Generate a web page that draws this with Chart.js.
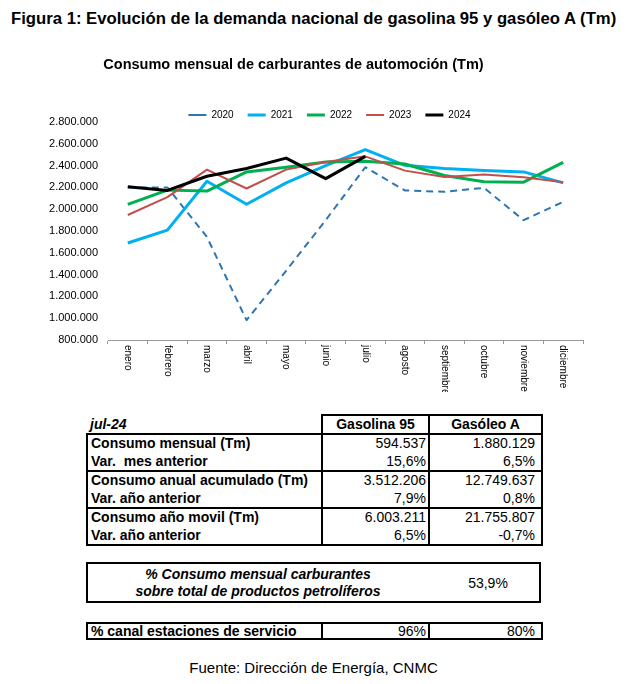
<!DOCTYPE html>
<html lang="es">
<head>
<meta charset="utf-8">
<script src="https://cdn.jsdelivr.net/npm/chart.js@4.4.1/dist/chart.umd.min.js"></script>
<style>
  html, body { margin:0; padding:0; background:#fff; }
  body { width:635px; height:684px; position:relative; overflow:hidden; font-family:"Liberation Sans", Arial, sans-serif; color:#000; }
  #hdr { position:absolute; left:11px; top:9px; font-size:16.7px; font-weight:bold; line-height:20px; white-space:nowrap; }
  #wrap { position:absolute; left:0; top:40px; width:635px; height:370px; }
  table { border-collapse:collapse; table-layout:fixed; position:absolute; }
  td { font-size:14px; line-height:16px; padding:0 3px; white-space:nowrap; overflow:hidden; height:18.5px; box-sizing:border-box; }
  .b { font-weight:bold; }
  .bi { font-weight:bold; font-style:italic; }
  .r { text-align:right; }
  .c { text-align:center; }
  #t1 { left:86px; top:414px; }
  #t1 td.c2 { padding-right:2px; }
  #t1 td.c3 { padding-right:6px; }
  .bl { border-left:2px solid #000; }
  .br { border-right:2px solid #000; }
  .bt { border-top:2px solid #000; }
  .bb { border-bottom:2px solid #000; }
  #box2 { position:absolute; left:86px; top:562px; width:455px; height:41px; border:2px solid #000; box-sizing:border-box; }
  #box2 .txt { position:absolute; left:0; width:340px; top:2px; text-align:center; font-size:14px; line-height:17px; font-weight:bold; font-style:italic; }
  #box2 .val { position:absolute; left:350px; width:100px; top:11px; text-align:center; font-size:14px; line-height:17px; }
  #t3 { left:86px; top:622px; }
  #t3 td { height:16px; line-height:14px; }
  #foot { position:absolute; left:0; width:627px; top:659px; text-align:center; font-size:15px; line-height:18px; }
</style>
</head>
<body>
<div id="hdr">Figura 1: Evolución de la demanda nacional de gasolina 95 y gasóleo A (Tm)</div>
<div id="wrap"><canvas id="c"></canvas></div>

<table id="t1">
  <colgroup><col style="width:235px"><col style="width:107px"><col style="width:113px"></colgroup>
  <tr><td class="bi bb">jul-24</td><td class="b c bt bl bb">Gasolina 95</td><td class="b c bt bl br bb">Gasóleo A</td></tr>
  <tr><td class="b bl">Consumo mensual (Tm)</td><td class="r c2 bl">594.537</td><td class="r c3 bl br">1.880.129</td></tr>
  <tr><td class="b bl bb">Var.&nbsp; mes anterior</td><td class="r c2 bl bb">15,6%</td><td class="r c3 bl br bb">6,5%</td></tr>
  <tr><td class="b bl">Consumo anual acumulado (Tm)</td><td class="r c2 bl">3.512.206</td><td class="r c3 bl br">12.749.637</td></tr>
  <tr><td class="b bl bb">Var. año anterior</td><td class="r c2 bl bb">7,9%</td><td class="r c3 bl br bb">0,8%</td></tr>
  <tr><td class="b bl">Consumo año movil (Tm)</td><td class="r c2 bl">6.003.211</td><td class="r c3 bl br">21.755.807</td></tr>
  <tr><td class="b bl bb">Var. año anterior</td><td class="r c2 bl bb">6,5%</td><td class="r c3 bl br bb">-0,7%</td></tr>
</table>

<div id="box2">
  <div class="txt">% Consumo mensual carburantes<br>sobre total de productos petrolíferos</div>
  <div class="val">53,9%</div>
</div>

<table id="t3">
  <colgroup><col style="width:235px"><col style="width:107px"><col style="width:113px"></colgroup>
  <tr><td class="b bl bt bb">% canal estaciones de servicio</td><td class="r bl bt bb" style="padding-right:2px">96%</td><td class="r bl br bt bb" style="padding-right:6px">80%</td></tr>
</table>

<div id="foot">Fuente: Dirección de Energía, CNMC</div>

<script>
// ---- data ----
const months = ['enero','febrero','marzo','abril','mayo','junio','julio','agosto','septiembre','octubre','noviembre','diciembre'];
const years = ['2020','2021','2022','2023','2024'];
const v2020 = [2200000, 2200000, 1745000, 982000, 1435000, 1900000, 2385000, 2172000, 2160000, 2196000, 1899000, 2068000];
const v2021 = [1690000, 1808000, 2257000, 2045000, 2242000, 2400000, 2546000, 2403000, 2373000, 2354000, 2342000, 2242000];
const v2022 = [2045000, 2175000, 2166000, 2342000, 2384000, 2433000, 2439000, 2415000, 2309000, 2251000, 2248000, 2430000];
const v2023 = [1947000, 2111000, 2363000, 2190000, 2363000, 2433000, 2485000, 2354000, 2296000, 2318000, 2293000, 2248000];
const v2024 = [2205000, 2172000, 2302000, 2373000, 2469000, 2280000, 2485000];
const yTicks = { min: 800000, max: 2800000, step: 200000 };
const chartTitle = 'Consumo mensual de carburantes de automoción (Tm)';

const FONT = '"Liberation Sans", Arial, sans-serif';
const fmt = v => String(Math.round(v)).replace(/\B(?=(\d{3})+(?!\d))/g, '.');

const shiftPlugin = {
  id: 'shift',
  afterLayout(chart) {
    const lg = chart.legend;
    if (lg) { lg.top += 8; lg.bottom += 8; lg.left += 38; lg.right += 38; }
    const t = chart.titleBlock;
    if (t) { t.left += 2; t.right += 2; }
  }
};

const xLabelPlugin = {
  id: 'xlabels',
  afterDraw(chart) {
    const xs = chart.scales.x;
    const ctx = chart.ctx;
    ctx.save();
    ctx.beginPath();
    ctx.rect(0, xs.top, chart.width, 52);
    ctx.clip();
    ctx.font = '10px ' + FONT;
    ctx.fillStyle = '#000';
    ctx.textAlign = 'left';
    ctx.textBaseline = 'middle';
    chart.data.labels.forEach((lab, i) => {
      const x = xs.getPixelForValue(i);
      ctx.save();
      ctx.translate(x, xs.top + 5);
      ctx.rotate(Math.PI / 2);
      ctx.fillText(lab, 0, 0);
      ctx.restore();
    });
    ctx.restore();
  }
};

const datasets = [
  { label: years[4], data: v2024, borderColor: '#000000', backgroundColor: '#000000', borderWidth: 3 },
  { label: years[3], data: v2023, borderColor: '#C0504D', backgroundColor: '#C0504D', borderWidth: 2 },
  { label: years[2], data: v2022, borderColor: '#00B050', backgroundColor: '#00B050', borderWidth: 3 },
  { label: years[1], data: v2021, borderColor: '#00B0F0', backgroundColor: '#00B0F0', borderWidth: 3 },
  { label: years[0], data: v2020, borderColor: '#2E75B6', backgroundColor: '#2E75B6', borderWidth: 2, borderDash: [7, 5] }
].map(d => Object.assign({ pointRadius: 0, tension: 0, fill: false, borderJoinStyle: 'round' }, d));

new Chart(document.getElementById('c'), {
  type: 'line',
  data: { labels: months, datasets },
  options: {
    responsive: true,
    maintainAspectRatio: false,
    animation: false,
    layout: { padding: { left: 0, right: 52, top: 0, bottom: 0 } },
    plugins: {
      title: { display: true, text: chartTitle, color: '#000', font: { family: FONT, size: 14.5, weight: 'bold' }, padding: { top: 16, bottom: 14.6 } },
      legend: {
        display: true, position: 'top', reverse: true,
        labels: { usePointStyle: true, pointStyle: 'line', pointStyleWidth: 18, boxHeight: 10, padding: 14, color: '#000', font: { family: FONT, size: 10 } }
      },
      tooltip: { enabled: false }
    },
    scales: {
      x: {
        offset: true,
        grid: { display: true, offset: true, drawOnChartArea: false, drawTicks: true, tickLength: 4, color: '#9a9a9a' },
        border: { display: true, color: '#9a9a9a' },
        ticks: { display: false },
        afterFit(s) { s.height = 70; }
      },
      y: {
        min: yTicks.min, max: yTicks.max,
        ticks: { stepSize: yTicks.step, callback: v => fmt(v), color: '#000', font: { family: FONT, size: 11 }, padding: 10 },
        grid: { display: false, drawTicks: false },
        border: { display: false },
        afterFit(s) { s.width = 108; }
      }
    }
  },
  plugins: [shiftPlugin, xLabelPlugin]
});
</script>
</body>
</html>
